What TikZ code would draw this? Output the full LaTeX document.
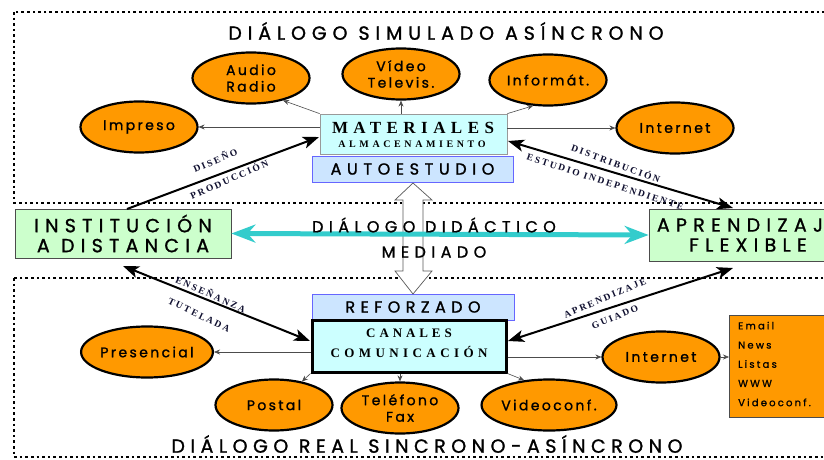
\documentclass[tikz,border=0pt]{standalone}
\usepackage{fontspec}
\setmainfont{Liberation Serif}
\newfontfamily\comic[FakeBold=1.2]{Poppins}
\usetikzlibrary{shapes.geometric,arrows.meta}
\definecolor{orng}{HTML}{FF9900}
\definecolor{lcyan}{HTML}{CCFFFF}
\definecolor{lblue}{HTML}{CCE5FF}
\definecolor{bblue}{HTML}{6666FF}
\definecolor{lgreen}{HTML}{CCFFCC}
\definecolor{teal2}{HTML}{33CCCC}
\definecolor{navyt}{HTML}{101030}
\newcommand\cf[3]{\comic\fontsize{#1}{#2}\selectfont\addfontfeature{LetterSpace=#3}}
\newcommand\sff[3]{\bfseries\fontsize{#1}{#2}\selectfont\addfontfeature{LetterSpace=#3}}
\begin{document}
\begin{tikzpicture}[x=1pt,y=-1pt,
  ell/.style={ellipse, draw=black, line width=2.2pt, fill=orng, minimum width=117pt,
    minimum height=51pt, inner sep=0pt, align=center, font=\cf{14}{16.5}{17}},
  thinarr/.style={draw=gray!60!black, line width=0.6pt, -{Stealth[length=6pt,width=5pt]}},
  bigtip/.tip={Stealth[length=16pt,width=12pt,inset=4pt]},
  bigarr/.style={draw=black, line width=2pt},
  dotbox/.style={draw=black, line width=2.6pt, dash pattern=on 2.6pt off 3pt},
  lbl/.style={inner sep=0pt, text=navyt, font=\sff{9.5}{10}{22}},
  bluebox/.style={draw=bblue, line width=1pt, fill=lblue, inner sep=0pt},
  cyanbox/.style={fill=lcyan, inner sep=0pt},
  greenbox/.style={draw=black!70, line width=0.8pt, fill=lgreen, inner sep=0pt, align=center, font=\cf{19}{20}{33}},
  ttl/.style={inner sep=0pt},
  mid/.style={inner sep=0pt, font=\cf{16}{17}{34}}
]
\clip (0,0) rectangle (824,460);
\fill[white] (0,0) rectangle (824,460);
% dotted regions
\draw[dotbox] (14,12) rectangle (850,203);
\draw[dotbox] (14,278) rectangle (850,457);
\node[ttl, font=\cf{19}{20}{31}] (t1) at (446,31) {DIÁLOGO SIMULADO ASÍNCRONO};
\node[ttl, font=\cf{19}{20}{29}] (t2) at (427,444) {DIÁLOGO REAL SINCRONO-ASÍNCRONO};

% top boxes
\node[cyanbox, draw=gray!80, line width=0.8pt, minimum width=187pt, minimum height=40pt] (mat) at (413.5,134) {};
\node[inner sep=0pt, font=\sff{17}{18}{32}] (matt) at (413,128) {MATERIALES};
\node[inner sep=0pt, font=\sff{10}{10}{36}] (mats) at (412,144) {ALMACENAMIENTO};
\node[bluebox, minimum width=201pt, minimum height=26pt, font=\cf{16}{17}{35}] (auto) at (412.5,169) {AUTOESTUDIO};

% bottom boxes
\node[bluebox, minimum width=202pt, minimum height=26pt, font=\cf{16}{17}{34}] (refo) at (413,307) {REFORZADO};
\node[cyanbox, draw=black, line width=3pt, minimum width=194pt, minimum height=52pt] (can) at (409,346) {};
\node[inner sep=0pt, font=\sff{13}{14}{30}] (cant) at (409,333) {CANALES};
\node[inner sep=0pt, font=\sff{13}{14}{34}] (cans) at (409,352) {COMUNICACIÓN};

% side boxes
\node[greenbox, minimum width=216pt, minimum height=49pt] (inst) at (123,233.5) {INSTITUCIÓN\\A DISTANCIA};
\node[greenbox, minimum width=198pt, minimum height=52pt] (apr) at (748,235) {APRENDIZAJE\\FLEXIBLE};

% hollow double arrow
\filldraw[draw=gray!70!black, fill=white, line width=0.7pt]
  (413,183) -- (432,200) -- (423,200) -- (423,271) -- (432,271) -- (413,294)
  -- (395,271) -- (403,271) -- (403,200) -- (395,200) -- cycle;

% cyan arrow
\draw[teal2, line width=5pt, {Stealth[length=24pt,width=18pt]}-{Stealth[length=24pt,width=18pt]}] (inst.east) -- (apr.west);
\node[mid] (dd) at (434,225) {DIÁLOGO DIDÁCTICO};
\node[mid] (med) at (434,252) {MEDIADO};

% ellipses top
\node[ell] (audio) at (251,78) {Audio\\Radio};
\node[ell] (video) at (401,74) {Vídeo\\Televis.};
\node[ell] (info) at (548,80) {Informát.};
\node[ell] (impr) at (139,127) {Impreso};
\node[ell] (inet1) at (675,128) {Internet};
% ellipses bottom
\node[ell] (pres) at (147,352) {Presencial};
\node[ell] (post) at (274,405) {Postal};
\node[ell] (tel) at (400,408) {Teléfono\\Fax};
\node[ell] (vid) at (549,405) {Videoconf.};
\node[ell] (inet2) at (661,357) {Internet};

% list box
\node[draw=black!70, line width=0.8pt, fill=orng, minimum width=110pt, minimum height=102pt, anchor=north west] (lst) at (729,315) {};
\node[anchor=west, inner sep=0pt, align=left, font=\cf{10}{19.2}{22}] (lstt) at (738,364) {Email\\News\\Listas\\WWW\\Videoconf.};

% thin arrows
\draw[thinarr] (mat.west |- impr) -- (impr.east);
\draw[thinarr] (mat.north west) -- (audio.-35);
\draw[thinarr] (mat.north -| video) -- (video.south);
\draw[thinarr] (mat.north east) -- (info.-120);
\draw[thinarr] (mat.east |- inet1) -- (inet1.west);
\draw[thinarr] (can.west |- pres) -- (pres.east);
\draw[thinarr] (can.south west) -- (post.40);
\draw[thinarr] (can.south -| tel) -- (tel.north);
\draw[thinarr] (can.south east) -- (vid.135);
\draw[thinarr] (can.east |- inet2) -- (inet2.west);
\draw[thinarr] (inet2.east) -- (lst.west |- inet2);

% thick arrows
\coordinate (c1) at (127,209);
\coordinate (c2) at (319,137);
\coordinate (c3) at (508,141);
\coordinate (c4) at (733,208);
\coordinate (c5) at (123,266);
\coordinate (c6) at (310,341);
\coordinate (c7) at (733,268);
\coordinate (c8) at (508,341);
\draw[bigarr, -bigtip] (c1) -- (c2);
\draw[bigarr, bigtip-bigtip] (c3) -- (c4);
\draw[bigarr, bigtip-bigtip] (c5) -- (c6);
\draw[bigarr, bigtip-bigtip] (c7) -- (c8);

% labels
\node[lbl, rotate=23] (l1) at (215,160) {DISEÑO};
\node[lbl, rotate=24] (l2) at (229,179) {PRODUCCIÓN};
\node[lbl, rotate=-20] (l3) at (616,163) {DISTRIBUCIÓN};
\node[lbl, rotate=-18] (l4) at (605,182) {ESTUDIO INDEPENDIENTE};
\node[lbl, rotate=-24] (l5) at (211,294) {ENSEÑANZA};
\node[lbl, rotate=-26] (l6) at (199,315) {TUTELADA};
\node[lbl, rotate=23] (l7) at (605,298) {APRENDIZAJE};
\node[lbl, rotate=23] (l8) at (615,317) {GUIADO};
\end{tikzpicture}
\end{document}
